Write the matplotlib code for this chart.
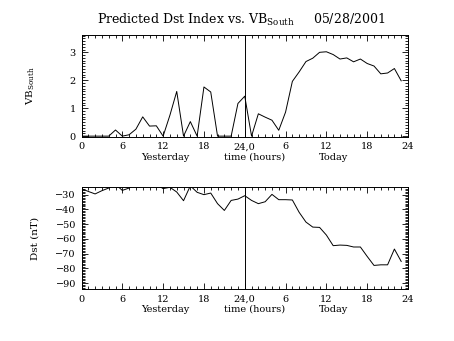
#import used libraries
import numpy as np
from matplotlib import pyplot as plt
from matplotlib.ticker import MultipleLocator

plt.rcParams['font.family'] = 'DejaVu Serif'
plt.rcParams['mathtext.fontset'] = 'dejavuserif'

#hours since start of yesterday
hours = np.arange(48)
#VB south values
vb_south = [0, 0, 0, 0, 0, 0.22, 0, 0.05, 0.25, 0.69, 0.36, 0.37,
            0, 0.75, 1.6, 0, 0.52, 0, 1.76, 1.58, 0, 0, 0, 1.17,
            1.43, 0, 0.8, 0.68, 0.57, 0.21, 0.86, 1.96, 2.3, 2.67, 2.79, 3.0,
            3.02, 2.92, 2.76, 2.8, 2.66, 2.76, 2.6, 2.51, 2.23, 2.26, 2.42, 1.98]
#Dst values
dst = [-26, -27.8, -29.5, -27.3, -25.5, -23, -27.1, -25.5, -23, -22, -22, -23,
       -25.9, -25, -28.2, -34.1, -24, -28.4, -30, -28.9, -36.1, -40.7, -33.9, -33,
       -30.7, -33.9, -36.1, -34.8, -29.8, -33.4, -33.4, -33.6, -42, -48.6, -52, -52.2,
       -57.4, -64.6, -64.2, -64.4, -65.5, -65.5, -71.9, -78, -77.6, -77.6, -66.9, -75.3]
tick_pos = [0, 6, 12, 18, 24, 30, 36, 42, 48]
tick_labels = ['0', '6', '12', '18', '24,0', '6', '12', '18', '24']

W, H = 454, 341
fig = plt.figure(figsize=(W/100, H/100), dpi=100)


def setup_axis(ax):
    ax.set_xlim(0, 48)
    ax.set_xticks(tick_pos)
    ax.set_xticklabels(tick_labels)
    ax.xaxis.set_minor_locator(MultipleLocator(1))
    ax.tick_params(which='both', direction='in', top=True, right=True, labelsize=7, width=0.6, pad=4)
    ax.tick_params(which='major', length=4)
    ax.tick_params(which='minor', length=2)
    for s in ax.spines.values():
        s.set_linewidth(0.7)
    ax.axvline(24, color='black', lw=0.7)
    #second line of x title
    for xpos, txt in [(12.3, 'Yesterday'), (25.4, 'time (hours)'), (37.1, 'Today')]:
        ax.text(xpos, -0.2, txt, transform=ax.get_xaxis_transform(), ha='center', va='center', fontsize=7)


#top panel
ax1 = fig.add_axes([81.5/W, 1-136.7/H, 326.5/W, 101.7/H])
ax1.plot(hours, vb_south, color='black', lw=0.7)
ax1.set_ylim(-0.02, 3.62)
ax1.yaxis.set_major_locator(MultipleLocator(1))
ax1.yaxis.set_minor_locator(MultipleLocator(0.1))
setup_axis(ax1)
ax1.set_ylabel(r'VB$_{\rm South}$', fontsize=7.5)
ax1.yaxis.set_label_coords(-0.135, 0.5)
fig.text(241/W, 1-20/H, r'Predicted Dst Index vs. VB$_{\rm South}$     05/28/2001',
         ha='center', va='center', fontsize=9)

#bottom panel
ax2 = fig.add_axes([81.5/W, 1-289/H, 326.5/W, 101.7/H])
ax2.plot(hours, dst, color='black', lw=0.7)
ax2.set_ylim(-94, -25)
ax2.yaxis.set_major_locator(MultipleLocator(10))
ax2.yaxis.set_minor_locator(MultipleLocator(1))
setup_axis(ax2)
ax2.set_ylabel('Dst (nT)', fontsize=7.5)
ax2.yaxis.set_label_coords(-0.13, 0.5)

plt.savefig('out.png', dpi=100)
plt.close()
